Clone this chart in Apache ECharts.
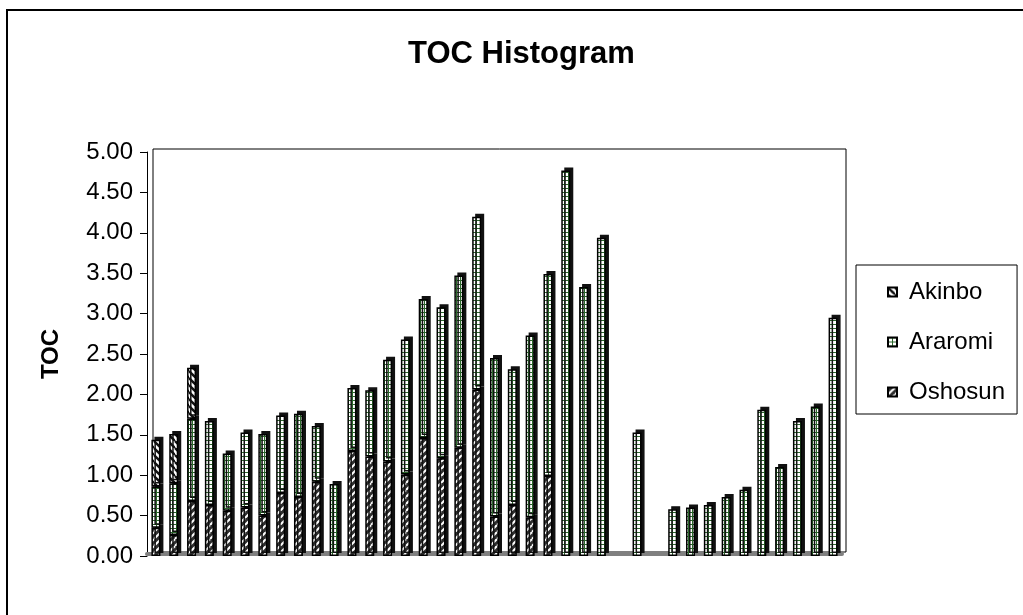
<!DOCTYPE html>
<html>
<head>
<meta charset="utf-8">
<title>TOC Histogram</title>
<script src="https://cdn.jsdelivr.net/npm/echarts@6/dist/echarts.min.js"></script>
<style>
  html, body { margin: 0; padding: 0; background: #fff; }
  #chart { width: 1023px; height: 615px; }
</style>
</head>
<body>
<div id="chart"></div>
<script>
// samples 1..39 (27 and 29 have no value)
var categories = []
for (var i = 1; i <= 39; i++) categories.push(String(i))

var legendData = ['Akinbo', 'Araromi', 'Oshosun']

var oshosunData = [0.35, 0.26, 0.68, 0.63, 0.56, 0.60, 0.50, 0.78, 0.73, 0.92,
  null, 1.30, 1.23, 1.17, 1.01, 1.46, 1.21, 1.34, 2.06, 0.49,
  0.63, 0.48, 0.99, null, null, null, null, null, null, null,
  null, null, null, null, null, null, null, null, null]

var araromiData = [0.51, 0.64, 1.02, 1.04, 0.71, 0.93, 1.01, 0.96, 1.03, 0.69,
  0.89, 0.78, 0.82, 1.26, 1.67, 1.72, 1.87, 2.13, 2.14, 1.96,
  1.68, 2.25, 2.50, 4.77, 3.33, 3.94, null, 1.53, null, 0.58,
  0.60, 0.63, 0.73, 0.82, 1.81, 1.10, 1.67, 1.85, 2.95]

var akinboData = [0.58, 0.61, 0.63, null, null, null, null, null, null, null,
  null, null, null, null, null, null, null, null, null, null,
  null, null, null, null, null, null, null, null, null, null,
  null, null, null, null, null, null, null, null, null]

var yTicks = [0, 0.5, 1, 1.5, 2, 2.5, 3, 3.5, 4, 4.5, 5]

// small canvas tiles used as fill patterns
function stripes(bg, fg, size, width, back) {
  var c = document.createElement('canvas')
  c.width = size
  c.height = size
  var ctx = c.getContext('2d')
  ctx.fillStyle = bg
  ctx.fillRect(0, 0, size, size)
  ctx.strokeStyle = fg
  ctx.lineWidth = width
  for (var k = -1; k <= 1; k++) {
    ctx.beginPath()
    if (back) { // "\"
      ctx.moveTo(k * size, 0)
      ctx.lineTo(k * size + size, size)
    } else { // "/"
      ctx.moveTo(k * size, size)
      ctx.lineTo(k * size + size, 0)
    }
    ctx.stroke()
  }
  return { image: c, repeat: 'repeat' }
}

function grid(bg, fg, size) {
  var c = document.createElement('canvas')
  c.width = size
  c.height = size
  var ctx = c.getContext('2d')
  ctx.fillStyle = bg
  ctx.fillRect(0, 0, size, size)
  ctx.fillStyle = fg
  ctx.fillRect(0, 0, size, 1)
  ctx.fillRect(0, 0, 1, size)
  return { image: c, repeat: 'repeat' }
}

var akinboFill = stripes('#ffffff', '#111111', 7, 2.4, true)
var oshosunFill = stripes('#2e2e2e', '#ffffff', 7, 2, false)
var araromiFill = grid('#ffffff', '#2a662a', 4)

function barStyle(fill) {
  return {
    color: fill,
    borderColor: '#000',
    borderWidth: 1.5,
    shadowColor: '#111',
    shadowBlur: 0,
    shadowOffsetX: 3,
    shadowOffsetY: -3
  }
}

var chart = echarts.init(document.getElementById('chart'))
chart.setOption({
  animation: false,
  textStyle: { fontFamily: 'Liberation Sans, Arial, sans-serif' },
  title: {
    text: 'TOC Histogram',
    left: 403,
    top: 34,
    textStyle: { fontSize: 31, fontWeight: 'bold', color: '#000' }
  },
  legend: {
    data: legendData,
    orient: 'vertical',
    left: 856,
    top: 265,
    icon: 'rect',
    itemWidth: 9,
    itemHeight: 9,
    itemGap: 26,
    padding: [15, 12, 10, 31],
    borderColor: '#000',
    borderWidth: 1,
    textStyle: { fontSize: 24, color: '#000', padding: [0, 0, 0, 7] }
  },
  graphic: [{
    type: 'rect',
    shape: { x: 7, y: 10, width: 1040, height: 640 },
    style: { fill: null, stroke: '#000', lineWidth: 2 },
    silent: true
  }],
  grid: [
    { left: 147, right: 181, top: 152, bottom: 59 },
    // back wall of the 3d box
    { left: 153, right: 177, top: 149, bottom: 63, show: true, borderColor: '#000', borderWidth: 1 }
  ],
  xAxis: [{
    type: 'category',
    data: categories,
    offset: -2,
    axisLine: { lineStyle: { color: '#808080', width: 4 } },
    axisTick: { show: false },
    axisLabel: { show: false }
  }, {
    type: 'category',
    gridIndex: 1,
    data: categories,
    show: false
  }],
  yAxis: [{
    type: 'value',
    min: 0,
    max: 5,
    interval: 0.5,
    name: 'TOC',
    nameLocation: 'middle',
    nameGap: 84,
    nameTextStyle: { fontSize: 24, fontWeight: 'bold', color: '#000' },
    axisLine: { show: true, lineStyle: { color: '#000', width: 1 } },
    axisTick: { show: true, length: 7, lineStyle: { color: '#000' } },
    axisLabel: {
      fontSize: 24,
      color: '#000',
      margin: 14,
      formatter: function (v) { return yTicks.indexOf(v) >= 0 ? v.toFixed(2) : '' }
    },
    splitLine: { show: false }
  }, {
    type: 'value',
    gridIndex: 1,
    show: false
  }],
  series: [{
    name: 'Oshosun',
    type: 'bar',
    stack: 'toc',
    barWidth: 9,
    data: oshosunData,
    itemStyle: barStyle(oshosunFill)
  }, {
    name: 'Araromi',
    type: 'bar',
    stack: 'toc',
    barWidth: 9,
    data: araromiData,
    itemStyle: barStyle(araromiFill)
  }, {
    name: 'Akinbo',
    type: 'bar',
    stack: 'toc',
    barWidth: 9,
    data: akinboData,
    itemStyle: barStyle(akinboFill)
  }]
})
</script>
</body>
</html>
